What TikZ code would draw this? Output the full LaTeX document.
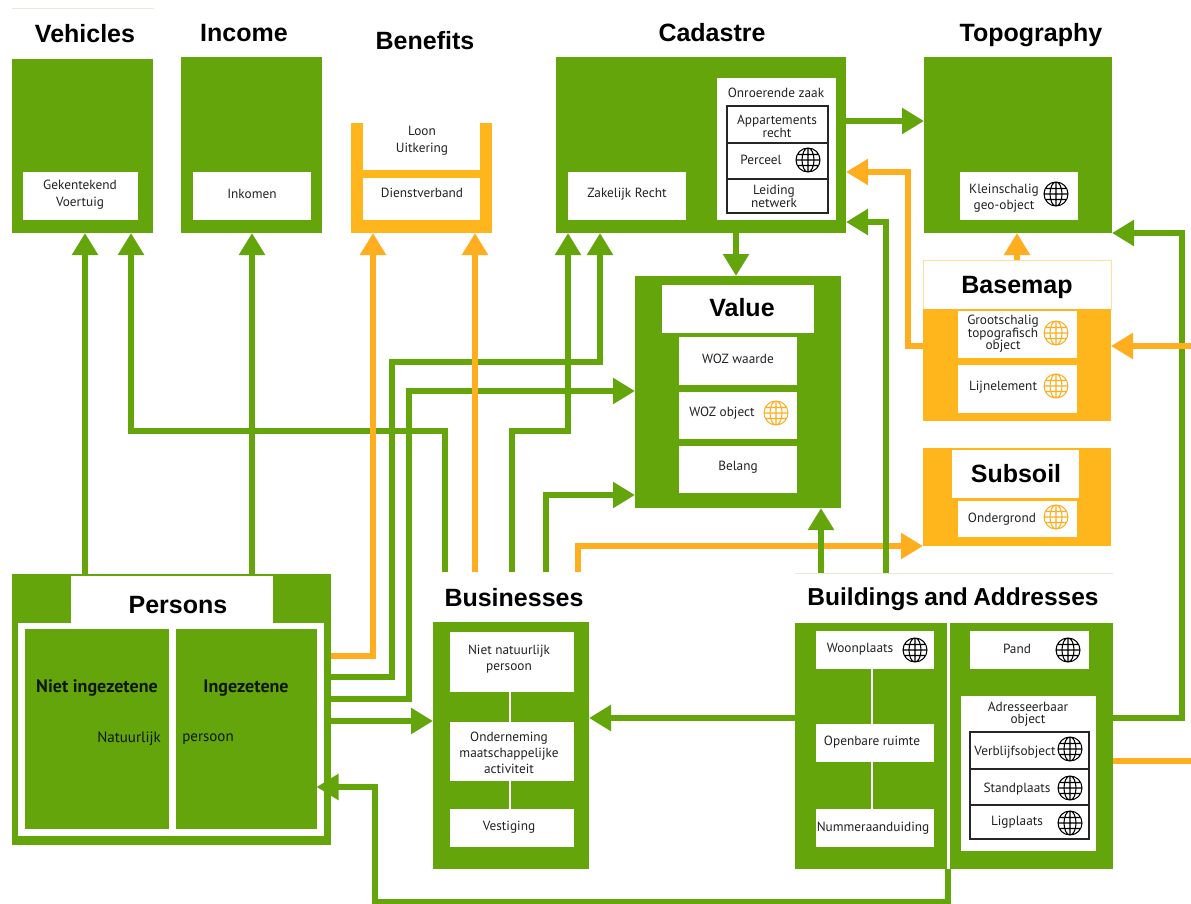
\documentclass[tikz,border=0pt]{standalone}
\usepackage{fontspec}
\setmainfont{PT Sans}
\newfontfamily\titlefont{Liberation Sans}[BoldFont={Liberation Sans Bold}]
\usetikzlibrary{arrows.meta}
\definecolor{kgreen}{HTML}{63A50B}
\definecolor{korange}{HTML}{FFB61C}
\definecolor{kline}{HTML}{FFAE1F}
\definecolor{ktext}{HTML}{222222}
\definecolor{kfaint}{HTML}{E3ECD3}
\definecolor{kfaintor}{HTML}{FFDFA0}
\tikzset{
  x=1pt,y=-1pt,
  base/.style={rectangle,inner sep=0pt,outer sep=0pt},
  gbox/.style={base,fill=kgreen},
  obox/.style={base,fill=korange},
  wbox/.style={base,fill=white},
  tcell/.style={base,fill=white,draw=black!85,line width=1.3pt},
  ttl/.style={base,font=\titlefont\bfseries\fontsize{25}{28}\selectfont,text=black},
  lbl/.style={base,align=center,text=ktext},
  lblb/.style={base,align=center,text=black!85!kgreen},
  gline/.style={draw=kgreen,line width=6pt,line join=miter},
  gconn/.style={gline,-{Triangle[length=22pt,width=25pt]}},
  oline/.style={draw=kline,line width=6pt,line join=miter},
  oconn/.style={oline,-{Triangle[length=22pt,width=25pt]}},
  wline/.style={draw=white,line width=2.5pt},
  globe/.pic={
    \draw[line width=1.05pt,draw=#1] (0,0) circle[radius=12pt]
      (0,0) ellipse[x radius=6pt,y radius=12pt]
      (0,-12) -- (0,12) (-12,0) -- (12,0)
      (-10.6,-5.5) -- (10.6,-5.5) (-10.6,5.5) -- (10.6,5.5);
  }
}
% name, style, x1, y1, x2, y2
\newcommand{\bx}[6]{%
  \pgfmathsetmacro{\bxw}{#5-#3}\pgfmathsetmacro{\bxh}{#6-#4}%
  \pgfmathsetmacro{\bxx}{(#3+#5)/2}\pgfmathsetmacro{\bxy}{(#4+#6)/2}%
  \node[#2,minimum width=\bxw pt,minimum height=\bxh pt] (#1) at (\bxx,\bxy) {};}
% leading, name, x, y, text
\newcommand{\lab}[5][14]{\node[lbl,font=\fontsize{13.3}{#1}\selectfont,yshift=-1pt] (#2) at (#3,#4) {#5};}
\begin{document}
\begin{tikzpicture}
\useasboundingbox (0,0) rectangle (1191,904);
\coordinate (fa) at (12,9); \coordinate (fb) at (154,9);
\draw[kfaint,line width=1pt] (fa) -- (fb);

% ---- top titles
\node[ttl] (tveh) at (85,34) {Vehicles};
\node[ttl] (tinc) at (244,33) {Income};
\node[ttl] (tben) at (425,40.5) {Benefits};
\node[ttl] (tcad) at (712,33) {Cadastre};
\node[ttl] (ttop) at (1031,35) {Topography};

% ---- Vehicles
\bx{vehicles}{gbox}{12}{59}{153}{233}
\bx{wveh}{wbox}{23}{172}{137.5}{220}
\lab[17]{lveh}{80}{194}{Gekentekend\\Voertuig}
% ---- Income
\bx{income}{gbox}{181}{57}{322}{233}
\bx{winc}{wbox}{193}{172}{311}{220}
\lab{linc}{252}{193}{Inkomen}
% ---- Benefits
\bx{benefits}{obox}{351}{123}{492}{233}
\bx{wben1}{wbox}{363}{123}{480}{170}
\bx{wben2}{wbox}{363}{178}{480}{220}
\lab[17]{lben1}{422}{140}{Loon\\Uitkering}
\lab{lben2}{422}{192}{Dienstverband}
% ---- Cadastre
\bx{cadastre}{gbox}{556}{57}{846}{233}
\bx{wzak}{wbox}{568}{172}{686}{220}
\lab{lzak}{627}{193}{Zakelijk Recht}
\bx{wonr}{wbox}{717}{78}{836}{220}
\lab{lonr}{776}{92}{Onroerende zaak}
\bx{c1}{tcell}{727}{106}{828}{143}
\bx{c2}{tcell}{727}{143}{828}{179}
\bx{c3}{tcell}{727}{179}{828}{213}
\lab[11]{lc1}{777}{125}{Appartements\\recht}
\lab{lc2}{761}{159}{Perceel}
\lab[11]{lc3}{774}{195}{Leiding\\netwerk}
\pic at (808,160) {globe=black};
% ---- Topography
\bx{topo}{gbox}{924}{57}{1112}{233}
\bx{wtop}{wbox}{960}{172}{1078}{220}
\lab[16]{ltop}{1004}{197}{Kleinschalig\\geo-object}
\pic at (1056,194) {globe=black};
% ---- Value
\bx{value}{gbox}{635}{276}{841}{508}
\bx{tval}{wbox}{662}{285}{814}{333}
\node[ttl] (ltval) at (742,308) {Value};
\bx{wv1}{wbox}{679}{337}{797}{385}
\bx{wv2}{wbox}{679}{392}{797}{439}
\bx{wv3}{wbox}{679}{446}{797}{493}
\lab{lv1}{738}{358}{WOZ waarde}
\lab{lv2}{722}{412}{WOZ object}
\lab{lv3}{738}{466}{Belang}
\pic at (776,413) {globe=kline};
% ---- Basemap
\bx{tbase}{base,draw=kfaintor,line width=.8pt,fill=white}{923}{260}{1111}{309}
\node[ttl] (ltbase) at (1017,287) {Basemap};
\bx{basemap}{obox}{923}{309}{1111}{421}
\bx{wb1}{wbox}{958}{311}{1077}{358}
\bx{wb2}{wbox}{958}{365}{1077}{413}
\lab[12.5]{lb1}{1003}{333}{Grootschalig\\topografisch\\object}
\lab{lb2}{1003}{386}{Lijnelement}
\pic at (1056,333) {globe=kline};
\pic at (1056,386) {globe=kline};
% ---- Subsoil
\bx{subsoil}{obox}{923}{448}{1111}{546}
\bx{tsub}{wbox}{952}{450}{1079}{498}
\node[ttl] (ltsub) at (1016,474) {Subsoil};
\bx{wsub}{wbox}{958}{501}{1077}{537}
\lab{lsub}{1002}{518}{Ondergrond}
\pic at (1056,517) {globe=kline};
% ---- Persons
\bx{persons}{gbox}{12}{574}{331}{845}
\bx{wper}{wbox}{18}{623}{324}{836}
\bx{tper}{wbox}{71}{576}{273}{623}
\node[ttl] (ltper) at (178,605) {Persons};
\bx{pniet}{gbox}{25}{629}{168.5}{829}
\bx{ping}{gbox}{175.5}{629}{316.5}{829}
\node[lblb,font=\bfseries\fontsize{18}{20}\selectfont] (lniet) at (97,688) {Niet ingezetene};
\node[lblb,font=\bfseries\fontsize{18}{20}\selectfont] (ling) at (246,688) {Ingezetene};
\node[lblb,font=\fontsize{15}{17}\selectfont] (lnat) at (129,739) {Natuurlijk};
\node[lblb,font=\fontsize{15}{17}\selectfont] (lpers) at (208,739) {persoon};
% ---- Businesses
\bx{tbus}{base}{433}{572}{596}{622}
\node[ttl] (ltbus) at (514,598) {Businesses};
\bx{business}{gbox}{433}{622}{589}{869}
\bx{wb3}{wbox}{450}{632}{573.5}{692}
\bx{wb4}{wbox}{450}{722}{573.5}{781}
\bx{wb5}{wbox}{450}{809}{573.5}{847}
\lab[16]{lb3}{509}{658}{Niet natuurlijk\\persoon}
\lab[16]{lb4}{509}{752}{Onderneming\\maatschappelijke\\activiteit}
\lab{lb5}{509}{826}{Vestiging}
\draw[wline] (510,0 |- wb3.south) -- (510,0 |- wb4.north);
\draw[wline] (510,0 |- wb4.south) -- (510,0 |- wb5.north);
% ---- Buildings and Addresses
\bx{tbld}{base}{795}{573}{1113}{623}
\draw[kfaint,line width=1pt] (tbld.north west) -- (tbld.north east);
\node[ttl,font=\titlefont\bfseries\fontsize{24.5}{28}\selectfont] (ltbld) at (953,599) {Buildings\hspace{-1.5pt} and\hspace{-1.5pt} Addresses};
\bx{bld}{gbox}{795}{623}{1113}{869}
\draw[draw=white,line width=3pt] (948,0 |- bld.north) -- (948,0 |- bld.south);
\bx{woon}{wbox}{816}{631}{934}{669}
\bx{open}{wbox}{816}{724}{934}{762}
\bx{numm}{wbox}{816}{809}{934}{847}
\draw[wline] (872,0 |- woon.south) -- (872,0 |- open.north);
\draw[wline] (872,0 |- open.south) -- (872,0 |- numm.north);
\lab{lwoon}{860}{648}{Woonplaats}
\lab{lopen}{872}{741}{Openbare ruimte}
\lab{lnumm}{873}{827}{Nummeraanduiding}
\pic at (915,650) {globe=black};
\bx{pand}{wbox}{970}{631}{1089}{669}
\lab{lpand}{1017}{648}{Pand}
\pic at (1068,650) {globe=black};
\bx{adres}{wbox}{961}{696}{1096}{851}
\lab[12]{ladres}{1028}{713}{Adresseerbaar\\object}
\bx{a1}{tcell}{970}{732}{1089}{769}
\bx{a2}{tcell}{970}{769}{1089}{805}
\bx{a3}{tcell}{970}{805}{1089}{839}
\lab{la1}{1015}{751}{Verblijfsobject}
\lab{la2}{1017}{788}{Standplaats}
\lab{la3}{1017}{821}{Ligplaats}
\pic at (1070,749) {globe=black};
\pic at (1070,788) {globe=black};
\pic at (1070,823) {globe=black};

% ---- connectors (lowest layer of crossings first)
\draw[oconn] (578,0 |- tbus.north) -- (578,546) -- (subsoil.west |- 0,546);
\draw[gconn] (85,0 |- persons.north) -- (85,0 |- vehicles.south);
\draw[gconn] (252,0 |- tper.north) -- (252,0 |- income.south);
\draw[gconn] (445,0 |- tbus.north) -- (445,431) -- (131,431) -- (131,0 |- vehicles.south);
\draw[gconn] (512,0 |- tbus.north) -- (512,431) -- (568,431) -- (568,0 |- cadastre.south);
\draw[gconn] (546,0 |- tbus.north) -- (546,495) -- (value.west |- 0,495);
\draw[gconn] (persons.east |- 0,677) -- (392,677) -- (392,362) -- (600,362) -- (600,0 |- cadastre.south);
\draw[gconn] (persons.east |- 0,699) -- (409,699) -- (409,391) -- (value.west |- 0,391);
\draw[gconn] (persons.east |- 0,721) -- (business.west |- 0,721);
\draw[oconn] (persons.east |- 0,656) -- (373,656) -- (373,0 |- benefits.south);
\draw[oconn] (475,0 |- tbus.north) -- (475,0 |- benefits.south);
\draw[gconn] (736,0 |- cadastre.south) -- (736,0 |- value.north);
\draw[gconn] (cadastre.east |- 0,121) -- (topo.west |- 0,121);
\draw[gconn] (821,0 |- tbld.north) -- (821,0 |- value.south);
\draw[gconn] (886,0 |- tbld.north) -- (886,222) -- (cadastre.east |- 0,222);
\draw[oconn] (basemap.west |- 0,346) -- (908,346) -- (908,172) -- (cadastre.east |- 0,172);
\draw[oconn] (1017,0 |- tbase.north) -- (1017,0 |- topo.south);
\draw[gconn] (bld.west |- 0,718) -- (business.east |- 0,718);
\coordinate (r1) at (1191,346);
\coordinate (r2) at (1191,761);
\draw[gconn] (bld.east |- 0,718) -- (1182,718) -- (1182,233) -- (topo.east |- 0,233);
\draw[oconn] (r1) -- (basemap.east |- r1);
\draw[oline] (bld.east |- r2) -- (r2);
\draw[gconn] (948,0 |- bld.south) -- (948,902) -- (375,902) -- (375,787) -- (ping.east |- 0,787);
\end{tikzpicture}
\end{document}
